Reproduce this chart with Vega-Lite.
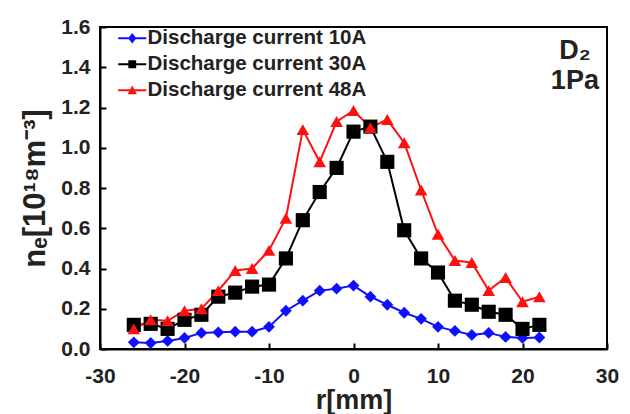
{
  "$schema": "https://vega.github.io/schema/vega-lite/v6.json",
  "width": 507,
  "height": 322,
  "autosize": {"type": "none"},
  "padding": {"left": 100, "top": 27, "right": 23, "bottom": 65},
  "background": "white",
  "config": {
    "font": "Liberation Sans",
    "view": {"stroke": "black", "strokeWidth": 2},
    "axis": {
      "grid": false,
      "domainColor": "black",
      "domainWidth": 2,
      "tickColor": "black",
      "tickWidth": 2,
      "labelFont": "Liberation Sans",
      "labelFontWeight": "bold",
      "labelColor": "#222",
      "titleFont": "Liberation Sans",
      "titleFontWeight": "bold",
      "titleColor": "#222"
    }
  },
  "datasets": {
    "main": [
      {"series": "Discharge current 10A", "r": -26, "ne": 0.033},
      {"series": "Discharge current 10A", "r": -24, "ne": 0.03},
      {"series": "Discharge current 10A", "r": -22, "ne": 0.04},
      {"series": "Discharge current 10A", "r": -20, "ne": 0.055},
      {"series": "Discharge current 10A", "r": -18, "ne": 0.08},
      {"series": "Discharge current 10A", "r": -16, "ne": 0.083},
      {"series": "Discharge current 10A", "r": -14, "ne": 0.086},
      {"series": "Discharge current 10A", "r": -12, "ne": 0.086},
      {"series": "Discharge current 10A", "r": -10, "ne": 0.11},
      {"series": "Discharge current 10A", "r": -8, "ne": 0.19},
      {"series": "Discharge current 10A", "r": -6, "ne": 0.24},
      {"series": "Discharge current 10A", "r": -4, "ne": 0.29},
      {"series": "Discharge current 10A", "r": -2, "ne": 0.30},
      {"series": "Discharge current 10A", "r": 0, "ne": 0.315},
      {"series": "Discharge current 10A", "r": 2, "ne": 0.26},
      {"series": "Discharge current 10A", "r": 4, "ne": 0.22},
      {"series": "Discharge current 10A", "r": 6, "ne": 0.18},
      {"series": "Discharge current 10A", "r": 8, "ne": 0.15},
      {"series": "Discharge current 10A", "r": 10, "ne": 0.11},
      {"series": "Discharge current 10A", "r": 12, "ne": 0.09},
      {"series": "Discharge current 10A", "r": 14, "ne": 0.07},
      {"series": "Discharge current 10A", "r": 16, "ne": 0.08},
      {"series": "Discharge current 10A", "r": 18, "ne": 0.06},
      {"series": "Discharge current 10A", "r": 20, "ne": 0.055},
      {"series": "Discharge current 10A", "r": 22, "ne": 0.057},
      {"series": "Discharge current 30A", "r": -26, "ne": 0.12},
      {"series": "Discharge current 30A", "r": -24, "ne": 0.125},
      {"series": "Discharge current 30A", "r": -22, "ne": 0.10},
      {"series": "Discharge current 30A", "r": -20, "ne": 0.145},
      {"series": "Discharge current 30A", "r": -18, "ne": 0.17},
      {"series": "Discharge current 30A", "r": -16, "ne": 0.26},
      {"series": "Discharge current 30A", "r": -14, "ne": 0.28},
      {"series": "Discharge current 30A", "r": -12, "ne": 0.31},
      {"series": "Discharge current 30A", "r": -10, "ne": 0.32},
      {"series": "Discharge current 30A", "r": -8, "ne": 0.45},
      {"series": "Discharge current 30A", "r": -6, "ne": 0.64},
      {"series": "Discharge current 30A", "r": -4, "ne": 0.78},
      {"series": "Discharge current 30A", "r": -2, "ne": 0.90},
      {"series": "Discharge current 30A", "r": 0, "ne": 1.08},
      {"series": "Discharge current 30A", "r": 2, "ne": 1.105},
      {"series": "Discharge current 30A", "r": 4, "ne": 0.93},
      {"series": "Discharge current 30A", "r": 6, "ne": 0.59},
      {"series": "Discharge current 30A", "r": 8, "ne": 0.45},
      {"series": "Discharge current 30A", "r": 10, "ne": 0.38},
      {"series": "Discharge current 30A", "r": 12, "ne": 0.24},
      {"series": "Discharge current 30A", "r": 14, "ne": 0.22},
      {"series": "Discharge current 30A", "r": 16, "ne": 0.185},
      {"series": "Discharge current 30A", "r": 18, "ne": 0.17},
      {"series": "Discharge current 30A", "r": 20, "ne": 0.10},
      {"series": "Discharge current 30A", "r": 22, "ne": 0.12},
      {"series": "Discharge current 48A", "r": -26, "ne": 0.10},
      {"series": "Discharge current 48A", "r": -24, "ne": 0.145},
      {"series": "Discharge current 48A", "r": -22, "ne": 0.14},
      {"series": "Discharge current 48A", "r": -20, "ne": 0.19},
      {"series": "Discharge current 48A", "r": -18, "ne": 0.20},
      {"series": "Discharge current 48A", "r": -16, "ne": 0.29},
      {"series": "Discharge current 48A", "r": -14, "ne": 0.39},
      {"series": "Discharge current 48A", "r": -12, "ne": 0.40},
      {"series": "Discharge current 48A", "r": -10, "ne": 0.49},
      {"series": "Discharge current 48A", "r": -8, "ne": 0.65},
      {"series": "Discharge current 48A", "r": -6, "ne": 1.09},
      {"series": "Discharge current 48A", "r": -4, "ne": 0.93},
      {"series": "Discharge current 48A", "r": -2, "ne": 1.13},
      {"series": "Discharge current 48A", "r": 0, "ne": 1.185},
      {"series": "Discharge current 48A", "r": 2, "ne": 1.10},
      {"series": "Discharge current 48A", "r": 4, "ne": 1.14},
      {"series": "Discharge current 48A", "r": 6, "ne": 1.025},
      {"series": "Discharge current 48A", "r": 8, "ne": 0.79},
      {"series": "Discharge current 48A", "r": 10, "ne": 0.57},
      {"series": "Discharge current 48A", "r": 12, "ne": 0.44},
      {"series": "Discharge current 48A", "r": 14, "ne": 0.43},
      {"series": "Discharge current 48A", "r": 16, "ne": 0.29},
      {"series": "Discharge current 48A", "r": 18, "ne": 0.355},
      {"series": "Discharge current 48A", "r": 20, "ne": 0.235},
      {"series": "Discharge current 48A", "r": 22, "ne": 0.26}
    ],
    "notes": [
      {"label": "D₂", "r": 26.2, "ne": 1.48},
      {"label": "1Pa", "r": 26.2, "ne": 1.33}
    ]
  },
  "layer": [
    {
      "data": {"name": "main"},
      "encoding": {
        "x": {"field": "r", "type": "quantitative",
          "scale": {"domain": [-30, 30], "nice": false},
          "axis": {"values": [-30, -20, -10, 0, 10, 20, 30], "title": "r[mm]", "titleFontSize": 27, "titlePadding": 1,
            "labelFontSize": 21, "tickSize": -6, "labelPadding": 22, "labelFlush": false,
            "labelExpr": "replace(datum.label, '−', '-')"}},
        "y": {"field": "ne", "type": "quantitative",
          "scale": {"domain": [0, 1.6], "nice": false},
          "axis": {"values": [0, 0.2, 0.4, 0.6, 0.8, 1.0, 1.2, 1.4, 1.6], "format": ".1f", "title": "nₑ[10¹⁸m⁻³]", "titleFontSize": 31, "titlePadding": 9,
            "labelFontSize": 21, "tickSize": -6, "labelPadding": 16}},
        "color": {"field": "series", "type": "nominal",
          "scale": {"domain": ["Discharge current 10A", "Discharge current 30A", "Discharge current 48A"], "range": ["#1010ff", "#000000", "#ff1010"]},
          "legend": {"title": null, "orient": "none", "legendX": 22, "legendY": 1,
            "labelFontSize": 20.5, "labelFont": "Liberation Sans", "labelFontWeight": "bold", "labelColor": "#222", "labelLimit": 0,
            "symbolSize": 350, "rowPadding": 5, "labelOffset": 5, "symbolStrokeWidth": 0,
            "encode": {"symbols": {"update": {"shape": {"signal": "datum.value === 'Discharge current 10A' ? 'M-1.5,-0.1H1.5V0.1H-1.5Z M0,-0.55L0.45,0L0,0.55L-0.45,0Z' : datum.value === 'Discharge current 30A' ? 'M-1.5,-0.1H1.5V0.1H-1.5Z M-0.42,-0.42H0.42V0.42H-0.42Z' : 'M-1.5,-0.1H1.5V0.1H-1.5Z M0,-0.5L0.5,0.42H-0.5Z'"}, "strokeWidth": {"value": 0}}}}}}
      },
      "layer": [
        {"mark": {"type": "line", "strokeWidth": 2}},
        {"transform": [{"filter": "datum.series === 'Discharge current 10A'"}],
          "mark": {"type": "point", "filled": true, "opacity": 1, "shape": "diamond", "size": 140}},
        {"transform": [{"filter": "datum.series === 'Discharge current 30A'"}],
          "mark": {"type": "point", "filled": true, "opacity": 1, "shape": "square", "size": 200}},
        {"transform": [{"filter": "datum.series === 'Discharge current 48A'"}],
          "mark": {"type": "point", "filled": true, "opacity": 1, "shape": "triangle-up", "size": 160}}
      ]
    },
    {
      "data": {"name": "notes"},
      "mark": {"type": "text", "font": "Liberation Sans", "fontWeight": "bold", "fontSize": 27, "color": "#222"},
      "encoding": {
        "x": {"field": "r", "type": "quantitative"},
        "y": {"field": "ne", "type": "quantitative"},
        "text": {"field": "label"}
      }
    }
  ]
}
